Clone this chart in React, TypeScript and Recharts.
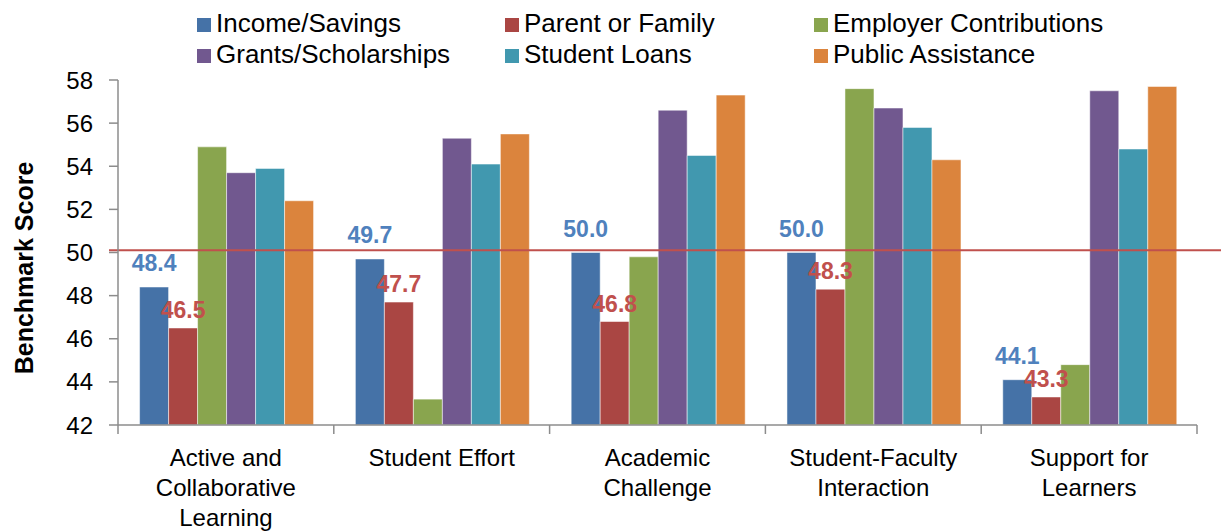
import {
  BarChart,
  Bar,
  XAxis,
  YAxis,
  ReferenceLine,
  LabelList,
} from "recharts";

const categories = [
  ["Active and", "Collaborative", "Learning"],
  ["Student Effort"],
  ["Academic", "Challenge"],
  ["Student-Faculty", "Interaction"],
  ["Support for", "Learners"],
];

const incomeSavings = [48.4, 49.7, 50.0, 50.0, 44.1];
const parentFamily = [46.5, 47.7, 46.8, 48.3, 43.3];
const employer = [54.9, 43.2, 49.8, 57.6, 44.8];
const grants = [53.7, 55.3, 56.6, 56.7, 57.5];
const studentLoans = [53.9, 54.1, 54.5, 55.8, 54.8];
const publicAssistance = [52.4, 55.5, 57.3, 54.3, 57.7];

const yTicks = [42, 44, 46, 48, 50, 52, 54, 56, 58];
const benchmark = 50.1;

const series = [
  { key: "income", name: "Income/Savings", color: "#4572A7" },
  { key: "parent", name: "Parent or Family", color: "#AA4643" },
  { key: "employer", name: "Employer Contributions", color: "#89A54E" },
  { key: "grants", name: "Grants/Scholarships", color: "#71588F" },
  { key: "loans", name: "Student Loans", color: "#4198AF" },
  { key: "public", name: "Public Assistance", color: "#DB843D" },
];

const data = categories.map((lines, i) => ({
  name: lines.join(" "),
  lines,
  income: incomeSavings[i],
  parent: parentFamily[i],
  employer: employer[i],
  grants: grants[i],
  loans: studentLoans[i],
  public: publicAssistance[i],
}));

const W = 1221;
const H = 531;
const FONT = "'Liberation Sans', Arial, sans-serif";
const AXIS = "#8c8c8c";
const PLOT_LEFT = 118;
const PLOT_RIGHT = 24;
const BAND = (W - PLOT_LEFT - PLOT_RIGHT) / categories.length;

const legendCols = [197, 505, 814];
const legendRows = [32, 63];

function CategoryTick(props: any) {
  const { x, y, payload, index } = props;
  const item = data[index] || data.find((d) => d.name === payload.value);
  const lines = item ? item.lines : [payload.value];
  const left = x - BAND / 2;
  const right = x + BAND / 2;
  return (
    <g>
      <line x1={left} y1={y} x2={left} y2={y + 9} stroke={AXIS} strokeWidth={1.5} />
      {index === categories.length - 1 && (
        <line x1={right} y1={y} x2={right} y2={y + 9} stroke={AXIS} strokeWidth={1.5} />
      )}
      <text x={x} y={y + 41} textAnchor="middle" fontSize={24} fontFamily={FONT} fill="#000">
        {lines.map((l: string, i: number) => (
          <tspan key={i} x={x} dy={i === 0 ? 0 : 30}>
            {l}
          </tspan>
        ))}
      </text>
    </g>
  );
}

function YLabel() {
  return (
    <text
      x={33}
      y={268}
      transform="rotate(-90 33 268)"
      textAnchor="middle"
      fontSize={25}
      fontWeight="bold"
      fontFamily={FONT}
      fill="#000"
    >
      Benchmark Score
    </text>
  );
}

function BenchLine(props: any) {
  const { x1, x2, y1, y2 } = props;
  return (
    <line x1={x1 - 9} y1={y1} x2={x2 + PLOT_RIGHT} y2={y2} stroke="#C0504D" strokeWidth={2} />
  );
}

export default function App() {
  return (
    <div style={{ position: "absolute", left: 0, top: 0, width: W, height: H, background: "#fff", fontFamily: FONT }}>
      <svg width={W} height={80} style={{ position: "absolute", left: 0, top: 0 }}>
        {series.map((s, i) => {
          const cx = legendCols[i % 3];
          const by = legendRows[Math.floor(i / 3)];
          return (
            <g key={s.key}>
              <rect x={cx} y={by - 14} width={14} height={14} fill={s.color} />
              <text x={cx + 19} y={by} fontSize={26} fontFamily={FONT} fill="#000">
                {s.name}
              </text>
            </g>
          );
        })}
      </svg>
      <div style={{ position: "absolute", left: 0, top: 0 }}>
        <BarChart
          width={W}
          height={H}
          data={data}
          margin={{ top: 80, right: PLOT_RIGHT, left: 0, bottom: 0 }}
          barCategoryGap="10%"
          barGap={0}
        >
          <XAxis
            dataKey="name"
            height={106}
            axisLine={{ stroke: AXIS, strokeWidth: 1.5 }}
            tickLine={false}
            tickSize={0}
            tickMargin={0}
            interval={0}
            tick={<CategoryTick />}
          />
          <YAxis
            width={PLOT_LEFT}
            domain={[42, 58]}
            ticks={yTicks}
            allowDataOverflow
            axisLine={{ stroke: AXIS, strokeWidth: 1.5 }}
            tickLine={{ stroke: AXIS, strokeWidth: 1.5 }}
            tickSize={9}
            tickMargin={16}
            tick={{ fontSize: 24, fill: "#000", fontFamily: FONT }}
            label={YLabel}
          />
          {series.map((s) => (
            <Bar
              key={s.key}
              dataKey={s.key}
              name={s.name}
              fill={s.color}
              stroke="#ffffff"
              strokeOpacity={0.5}
              strokeWidth={1}
              isAnimationActive={false}
            >
              {s.key === "income" && (
                <LabelList
                  dataKey="income"
                  position="top"
                  offset={16}
                  fill="#4F81BD"
                  fontSize={23}
                  fontWeight="bold"
                  fontFamily={FONT}
                  formatter={(v: any) => Number(v).toFixed(1)}
                />
              )}
              {s.key === "parent" && (
                <LabelList
                  dataKey="parent"
                  position="top"
                  offset={10}
                  fill="#C0504D"
                  fontSize={23}
                  fontWeight="bold"
                  fontFamily={FONT}
                  formatter={(v: any) => Number(v).toFixed(1)}
                />
              )}
            </Bar>
          ))}
          <ReferenceLine y={benchmark} ifOverflow="visible" shape={<BenchLine />} />
        </BarChart>
      </div>
    </div>
  );
}
